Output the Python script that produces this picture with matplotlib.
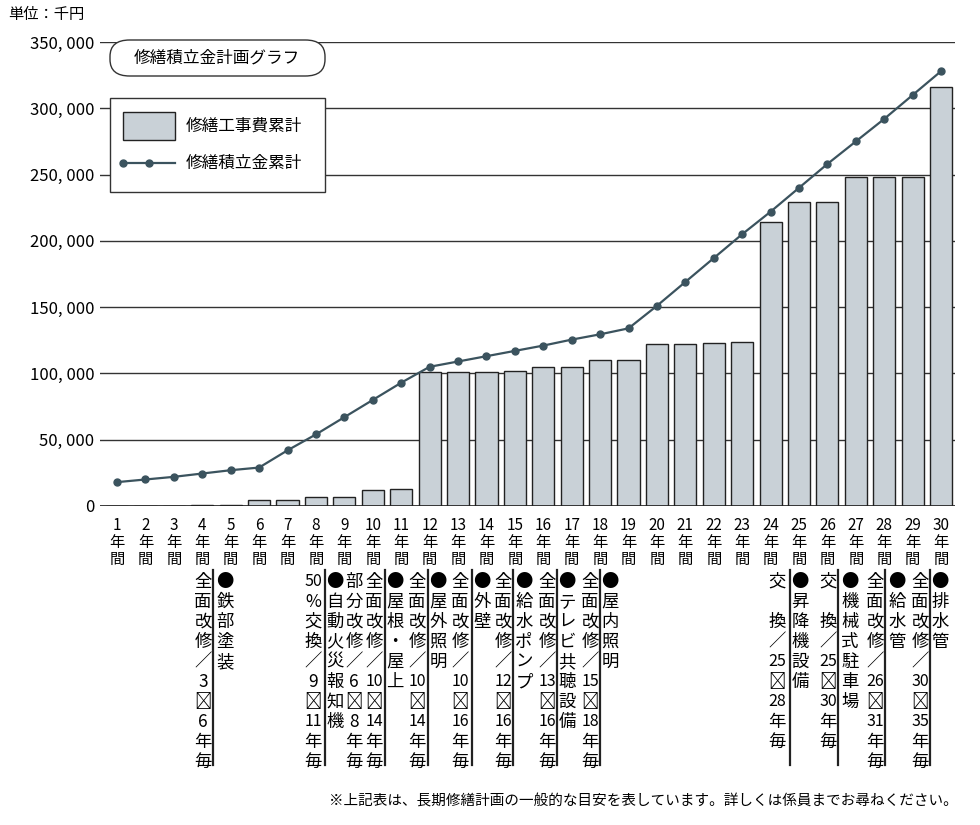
import matplotlib
matplotlib.use("Agg")
import matplotlib.pyplot as plt
from matplotlib.patches import FancyBboxPatch, Rectangle
from matplotlib.lines import Line2D

plt.rcParams["font.family"] = "Noto Sans CJK JP"

years = list(range(1, 31))
year_labels = [f"{y}\n年\n間" for y in years]
repair_cum = [0, 0, 0, 1000, 1000, 4500, 4500, 7000, 7000, 12000, 12500,
              101000, 101000, 101000, 102000, 105000, 105000, 110000, 110000,
              122000, 122000, 123000, 124000, 214000, 229000, 229000, 248000,
              248000, 248000, 316000]
fund_cum = [18000, 20000, 22000, 24500, 27000, 29000, 42000, 54000, 67000,
            80000, 93000, 105000, 109000, 113000, 117000, 121000, 125500,
            129500, 134000, 151000, 169000, 187000, 205000, 222000, 240000,
            258000, 275000, 292000, 310000, 328000]
yticks = [0, 50000, 100000, 150000, 200000, 250000, 300000, 350000]

# annotation columns: (pixel x, tokens)
ann_cols = [
    (203, ["全", "面", "改", "修", "／", "3", "～", "6", "年", "毎"]),
    (225, ["●", "鉄", "部", "塗", "装"]),
    (313, ["50", "%", "交", "換", "／", "9", "～", "11", "年", "毎"]),
    (335, ["●", "自", "動", "火", "災", "報", "知", "機"]),
    (354, ["部", "分", "改", "修", "／", "6", "～", "8", "年", "毎"]),
    (374, ["全", "面", "改", "修", "／", "10", "～", "14", "年", "毎"]),
    (395, ["●", "屋", "根", "・", "屋", "上"]),
    (417, ["全", "面", "改", "修", "／", "10", "～", "14", "年", "毎"]),
    (438, ["●", "屋", "外", "照", "明"]),
    (460, ["全", "面", "改", "修", "／", "10", "～", "16", "年", "毎"]),
    (482, ["●", "外", "壁"]),
    (503, ["全", "面", "改", "修", "／", "12", "～", "16", "年", "毎"]),
    (524, ["●", "給", "水", "ポ", "ン", "プ"]),
    (547, ["全", "面", "改", "修", "／", "13", "～", "16", "年", "毎"]),
    (567, ["●", "テ", "レ", "ビ", "共", "聴", "設", "備"]),
    (590, ["全", "面", "改", "修", "／", "15", "～", "18", "年", "毎"]),
    (610, ["●", "屋", "内", "照", "明"]),
    (777, ["交", "", "換", "／", "25", "～", "28", "年", "毎"]),
    (800, ["●", "昇", "降", "機", "設", "備"]),
    (828, ["交", "", "換", "／", "25", "～", "30", "年", "毎"]),
    (850, ["●", "機", "械", "式", "駐", "車", "場"]),
    (875, ["全", "面", "改", "修", "／", "26", "～", "31", "年", "毎"]),
    (897, ["●", "給", "水", "管"]),
    (920, ["全", "面", "改", "修", "／", "30", "～", "35", "年", "毎"]),
    (940, ["●", "排", "水", "管"]),
]
ann_lines = [213, 325, 385, 428, 472, 513, 557, 600, 790, 838, 885, 930]

W, H = 980, 825
fig = plt.figure(figsize=(W / 100, H / 100), dpi=100)
ax = fig.add_axes([100 / W, 1 - 506 / H, 855 / W, 464 / H])

bar_c = "#c9d1d7"
line_c = "#3b535e"
ax.bar(years, repair_cum, width=0.78, color=bar_c, edgecolor="#222222", linewidth=1.0, zorder=3)
ax.plot(years, fund_cum, color=line_c, lw=1.6, marker="o", ms=5, zorder=4)

ax.set_xlim(0.4, 30.49)
ax.set_ylim(0, 350000)
ax.set_yticks(yticks)
ax.set_yticklabels([f"{v:,}".replace(",", ", ") for v in yticks], fontsize=12)
ax.set_xticks(years)
ax.set_xticklabels(year_labels, fontsize=11, linespacing=1.0)
ax.tick_params(length=0, pad=8)
ax.tick_params(axis="y", pad=4)
for s in ax.spines.values():
    s.set_visible(False)
ax.grid(axis="y", color="#333333", lw=1.0, zorder=0)
ax.axhline(0, color="#222222", lw=1.2, zorder=5)

def fx(px):
    return px / W

def fy(py):
    return 1 - py / H

# title box and legend
fig.add_artist(FancyBboxPatch((fx(110), fy(76)), 215 / W, 36 / H,
                              boxstyle="round,pad=0,rounding_size=0.02",
                              transform=fig.transFigure, fc="white", ec="#333333", lw=1.0, zorder=10))
fig.text(fx(217), fy(58), "修繕積立金計画グラフ", ha="center", va="center", fontsize=12, zorder=11)
fig.add_artist(Rectangle((fx(110), fy(192)), 215 / W, 94 / H, transform=fig.transFigure,
                         fc="white", ec="#333333", lw=1.0, zorder=10))
fig.add_artist(Rectangle((fx(123), fy(140)), 52 / W, 28 / H, transform=fig.transFigure,
                         fc=bar_c, ec="#222222", lw=1.0, zorder=11))
fig.text(fx(186), fy(126), "修繕工事費累計", va="center", fontsize=12, zorder=11)
fig.add_artist(Line2D([fx(123), fx(175)], [fy(163), fy(163)], transform=fig.transFigure,
                      color=line_c, lw=1.6, marker="o", ms=5, markevery=[0], zorder=11))
fig.add_artist(Line2D([fx(149)], [fy(163)], transform=fig.transFigure,
                      color=line_c, marker="o", ms=5, zorder=12))
fig.text(fx(186), fy(163), "修繕積立金累計", va="center", fontsize=12, zorder=11)

fig.text(fx(8), fy(14), "単位：千円", va="center", fontsize=11)

# vertical annotations
step = 20
for px, toks in ann_cols:
    for i, t in enumerate(toks):
        if not t:
            continue
        rot = 0
        txt = t
        if t == "～":
            txt = "≀"
        fig.text(fx(px), fy(582 + i * step), txt, ha="center", va="center",
                 fontsize=12.5 if len(t) == 1 else 11.5, rotation=rot)
for px in ann_lines:
    fig.add_artist(Line2D([fx(px), fx(px)], [fy(570), fy(765)], transform=fig.transFigure,
                          color="#222222", lw=1.6))

fig.text(fx(958), fy(802), "※上記表は、長期修繕計画の一般的な目安を表しています。詳しくは係員までお尋ねください。",
         ha="right", va="center", fontsize=10.5)

fig.savefig("out.png", dpi=100)
